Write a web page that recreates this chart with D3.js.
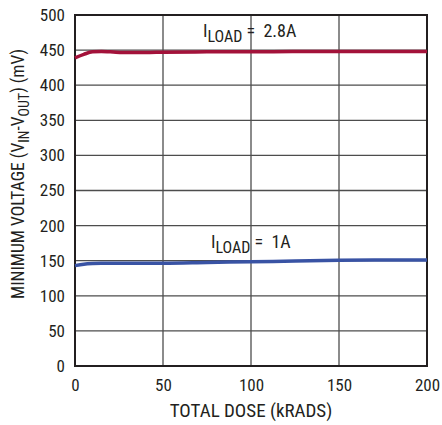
<!DOCTYPE html>
<html>
<head>
<meta charset="utf-8">
<script src="https://cdn.jsdelivr.net/npm/d3@7"></script>
<style>
  body { margin: 0; background: #fff; }
  svg text { font-family: "Liberation Sans Narrow", "Roboto Condensed", "Liberation Sans", sans-serif; fill: #231f20; }
</style>
</head>
<body>
<div class="chart"></div>
<script>
// data
var dose = [0, 5, 10, 15, 20, 30, 40, 50, 75, 100, 125, 150, 175, 200];
var load28A = [439, 444, 447.5, 448, 447.5, 446.5, 446.5, 447, 447.5, 447.5, 448, 448, 448, 448];
var load1A = [143, 145, 146, 146.5, 146.5, 146.5, 146.5, 146.5, 147.5, 148.5, 149.5, 150.5, 151, 151];
var xTicks = [0, 50, 100, 150, 200];
var yTicks = [0, 50, 100, 150, 200, 250, 300, 350, 400, 450, 500];

var width = 442, height = 425;
var margin = {top: 15, right: 15, bottom: 59, left: 75};

var x = d3.scaleLinear()
  .domain([0, 200])
  .range([margin.left, width - margin.right]);

var y = d3.scaleLinear()
  .domain([0, 500])
  .range([height - margin.bottom, margin.top]);

var svg = d3.select(".chart").append("svg")
  .attr("width", width)
  .attr("height", height);

// grid
svg.append("g").selectAll("line.v")
  .data(xTicks)
  .enter().append("line")
    .attr("x1", function(d) { return x(d); })
    .attr("x2", function(d) { return x(d); })
    .attr("y1", y(0))
    .attr("y2", y(500))
    .style("stroke", "#4d4d4d")
    .style("stroke-width", 1.3);

svg.append("g").selectAll("line.h")
  .data(yTicks)
  .enter().append("line")
    .attr("x1", x(0))
    .attr("x2", x(200))
    .attr("y1", function(d) { return y(d); })
    .attr("y2", function(d) { return y(d); })
    .style("stroke", "#4d4d4d")
    .style("stroke-width", 1.3);

// frame
svg.append("rect")
  .attr("x", x(0))
  .attr("y", y(500))
  .attr("width", x(200) - x(0))
  .attr("height", y(0) - y(500))
  .style("fill", "none")
  .style("stroke", "#231f20")
  .style("stroke-width", 2);

// axes labels
var xAxis = d3.axisBottom(x).tickValues(xTicks).tickSize(0).tickPadding(13);
var gX = svg.append("g")
  .attr("transform", "translate(0," + y(0) + ")")
  .call(xAxis);
gX.select(".domain").remove();
gX.selectAll("text").style("font-size", "17px").attr("fill", "#231f20");

var yAxis = d3.axisLeft(y).tickValues(yTicks).tickSize(0).tickPadding(10);
var gY = svg.append("g")
  .attr("transform", "translate(" + x(0) + ",0)")
  .call(yAxis);
gY.select(".domain").remove();
gY.selectAll("text").style("font-size", "17px").attr("fill", "#231f20");

// series
var line = d3.line()
  .curve(d3.curveMonotoneX)
  .x(function(d, i) { return x(dose[i]); })
  .y(function(d) { return y(d); });

svg.append("path")
  .attr("d", line(load28A))
  .style("fill", "none")
  .style("stroke", "#a3123a")
  .style("stroke-width", 3.5);

svg.append("path")
  .attr("d", line(load1A))
  .style("fill", "none")
  .style("stroke", "#3953a4")
  .style("stroke-width", 3.5);

// annotations
function loadLabel(px, py, val) {
  var t = svg.append("text")
    .attr("x", px)
    .attr("y", py)
    .style("font-size", "18px")
    .attr("xml:space", "preserve");
  t.append("tspan").text("I");
  t.append("tspan").attr("dy", 5).style("font-size", "16px").text("LOAD");
  t.append("tspan").attr("dy", -5).text(" =\u00a0\u00a0" + val);
}
loadLabel(203, 37, "2.8A");
loadLabel(211, 248, "1A");

svg.append("text")
  .attr("x", x(100))
  .attr("y", 417)
  .attr("text-anchor", "middle")
  .style("font-size", "19px")
  .text("TOTAL DOSE (kRADS)");

var yt = svg.append("text")
  .attr("transform", "translate(24,174) rotate(-90)")
  .attr("text-anchor", "middle")
  .style("font-size", "17.5px");
yt.append("tspan").text("MINIMUM VOLTAGE (V");
yt.append("tspan").attr("dy", 5).style("font-size", "14px").text("IN");
yt.append("tspan").attr("dy", -5).text("-V");
yt.append("tspan").attr("dy", 5).style("font-size", "14px").text("OUT");
yt.append("tspan").attr("dy", -5).text(") (mV)");
</script>
</body>
</html>
